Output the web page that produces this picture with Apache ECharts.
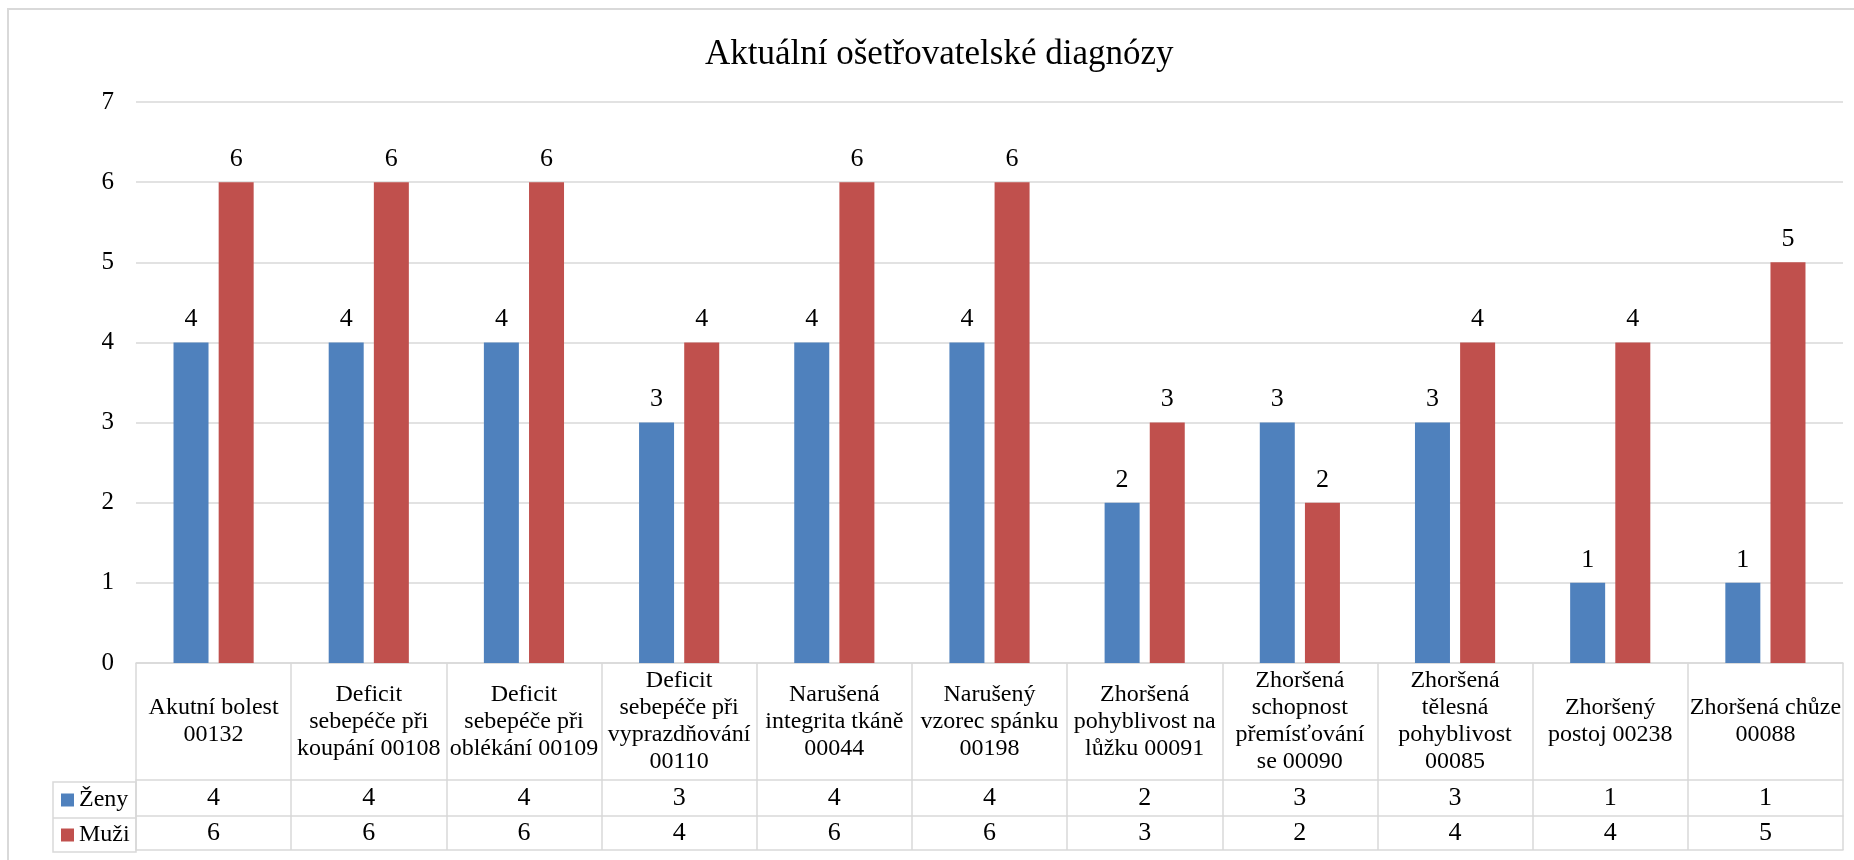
<!DOCTYPE html>
<html>
<head>
<meta charset="utf-8">
<title>Aktuální ošetřovatelské diagnózy</title>
<script src="https://cdn.jsdelivr.net/npm/echarts@6/dist/echarts.min.js"></script>
<style>
  html, body { margin: 0; padding: 0; background: #fff; }
  #chart { width: 1854px; height: 860px; }
</style>
</head>
<body>
<div id="chart"></div>
<script>
// kategorie (zalomeni radku jako v puvodni tabulce)
const categories = [
  "Akutní bolest\n00132",
  "Deficit\nsebepéče při\nkoupání 00108",
  "Deficit\nsebepéče při\noblékání 00109",
  "Deficit\nsebepéče při\nvyprazdňování\n00110",
  "Narušená\nintegrita tkáně\n00044",
  "Narušený\nvzorec spánku\n00198",
  "Zhoršená\npohyblivost na\nlůžku 00091",
  "Zhoršená\nschopnost\npřemísťování\nse 00090",
  "Zhoršená\ntělesná\npohyblivost\n00085",
  "Zhoršený\npostoj 00238",
  "Zhoršená chůze\n00088"
];
const seriesNames = ["Ženy", "Muži"];
const zeny = [4, 4, 4, 3, 4, 4, 2, 3, 3, 1, 1];
const muzi = [6, 6, 6, 4, 6, 6, 3, 2, 4, 4, 5];
const yMax = 7;
const yStep = 1;

// rozlozeni (px)
const W = 1854, H = 860;
const plotLeft = 136, plotRight = 1843, plotTop = 102, axisY = 665;
const rowCat = 782, rowZeny = 818, rowMuzi = 852; // spodni hrany radku tabulky
const legendLeft = 53;
const lineColor = "#D9D9D9";
const font = "Liberation Serif";
const colors = ["#4F81BD", "#C0504D"];

const chart = echarts.init(document.getElementById("chart"));

const txt = { fontFamily: font, fontSize: 24, color: "#000" };
const num = { fontFamily: font, fontSize: 26, color: "#000" };
const gridLine = { color: lineColor, width: 1.5 };

// dalsi osy x = radky tabulky s hodnotami
function tableAxis(offset, margin, values) {
  return {
    type: "category",
    data: categories,
    position: "bottom",
    offset: offset,
    axisLine: { show: true, lineStyle: gridLine },
    axisTick: { show: false },
    axisLabel: Object.assign({
      interval: 0,
      margin: margin,
      verticalAlign: "middle",
      formatter: values ? function (v, i) { return String(values[i]); } : function () { return ""; },
    }, num),
  };
}

chart.setOption({
  animation: false,
  color: colors,
  title: {
    text: "Aktuální ošetřovatelské diagnózy",
    left: 705,
    top: 37,
    padding: 0,
    textStyle: { fontFamily: font, fontSize: 35, fontWeight: "normal", color: "#000" },
  },
  legend: [
    {
      data: [seriesNames[0]],
      left: 61,
      top: (rowCat + rowZeny) / 2 - 12,
      padding: 0,
      icon: "rect",
      itemWidth: 13,
      itemHeight: 13,
      textStyle: txt,
    },
    {
      data: [seriesNames[1]],
      left: 61,
      top: (rowZeny + rowMuzi) / 2 - 12,
      padding: 0,
      icon: "rect",
      itemWidth: 13,
      itemHeight: 13,
      textStyle: txt,
    },
  ],
  grid: {
    left: plotLeft,
    right: W - plotRight,
    top: plotTop,
    bottom: H - axisY,
  },
  xAxis: [
    {
      type: "category",
      data: categories,
      axisLine: { show: true, lineStyle: gridLine },
      axisTick: {
        show: true,
        interval: 0,
        length: rowMuzi - axisY,
        lineStyle: gridLine,
      },
      axisLabel: Object.assign({
        interval: 0,
        margin: (rowCat - axisY) / 2,
        verticalAlign: "middle",
        lineHeight: 27,
      }, txt),
    },
    tableAxis(rowCat - axisY, (rowZeny - rowCat) / 2, zeny),
    tableAxis(rowZeny - axisY, (rowMuzi - rowZeny) / 2, muzi),
    tableAxis(rowMuzi - axisY, 10, null),
  ],
  yAxis: {
    type: "value",
    min: 0,
    max: yMax,
    interval: yStep,
    axisLine: { show: false },
    axisTick: { show: false },
    axisLabel: Object.assign({ margin: 22 }, txt, { fontSize: 25 }),
    splitLine: { lineStyle: gridLine },
  },
  series: [
    {
      name: seriesNames[0],
      type: "bar",
      data: zeny,
      barWidth: 35,
      barGap: "29%",
      label: Object.assign({ show: true, position: "top", distance: 10 }, num),
    },
    {
      name: seriesNames[1],
      type: "bar",
      data: muzi,
      barWidth: 35,
      barGap: "29%",
      label: Object.assign({ show: true, position: "top", distance: 10 }, num),
    },
  ],
  graphic: [
    // ramecek celeho grafu
    {
      type: "rect",
      silent: true,
      shape: { x: 8, y: 9, width: W, height: H },
      style: { fill: "none", stroke: lineColor, lineWidth: 2 },
    },
    // sloupec legendy v tabulce
    {
      type: "rect",
      silent: true,
      shape: { x: legendLeft, y: rowCat, width: plotLeft - legendLeft, height: rowMuzi - rowCat },
      style: { fill: "none", stroke: lineColor, lineWidth: 1.5 },
    },
    {
      type: "line",
      silent: true,
      shape: { x1: legendLeft, y1: rowZeny, x2: plotLeft, y2: rowZeny },
      style: { stroke: lineColor, lineWidth: 1.5 },
    },
  ],
});
</script>
</body>
</html>
